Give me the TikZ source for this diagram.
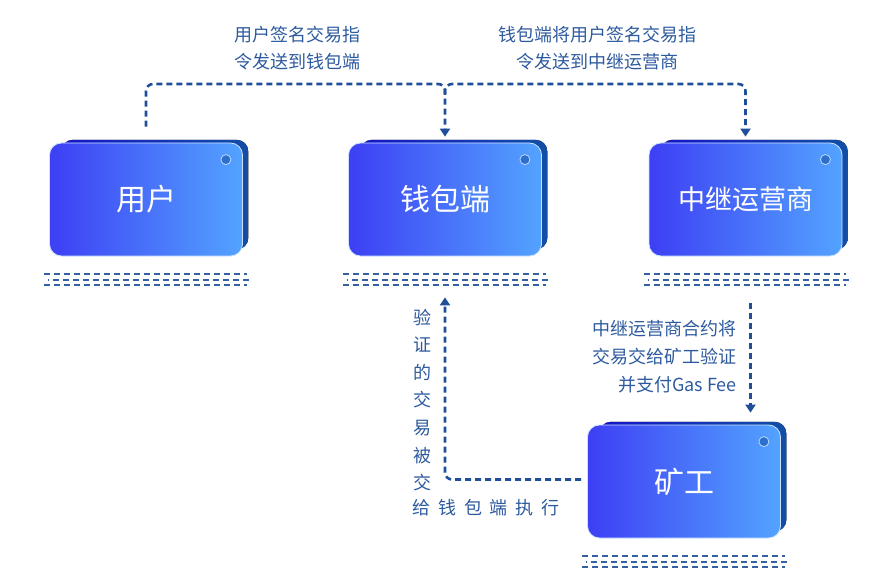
\documentclass[tikz,border=0pt]{standalone}
\usepackage{fontspec}
\setmainfont{Noto Sans CJK SC}
\usetikzlibrary{arrows.meta}
\usetikzlibrary{shadows}
\definecolor{cardL}{HTML}{3D3FF4}
\definecolor{cardR}{HTML}{53A3FF}
\definecolor{backL}{HTML}{1414C8}
\definecolor{backR}{HTML}{124FA6}
\definecolor{flowblue}{HTML}{1F4F98}
\definecolor{noteblue}{HTML}{2D5A9E}
\definecolor{dotblue}{HTML}{2F6FCC}
\tikzset{
  card/.style={rectangle, rounded corners=12pt, minimum width=193pt, minimum height=113pt,
    left color=cardL, right color=cardR, draw=white!70!cardR, line width=0.8pt,
    text=white, font=\fontsize{30}{34}\selectfont,
    copy shadow={shadow xshift=9pt, shadow yshift=5pt, shadow scale=0.97,
      left color=backL, right color=backR, draw=none}},
  flow/.style={draw=flowblue, line width=2.6pt, dash pattern=on 6pt off 4pt,
    rounded corners=7pt, -{Triangle[width=10pt,length=8pt]}},
  base/.style={draw=flowblue!90!white, line width=1.9pt, dash pattern=on 6pt off 4pt},
  note/.style={text=noteblue, font=\fontsize{18}{27}\selectfont, inner sep=0pt},
}

\begin{document}
\begin{tikzpicture}[x=1pt,y=-1pt]
      \useasboundingbox (0,0) rectangle (886,572);
      % the four parties
      \node[card] (user) at (146,199.5) {用户};
      \node[card] (wallet) at (445,199.5) {钱包端};
      \node[card, font=\fontsize{27}{30}\selectfont] (relay) at (745.5,199.5) {中继运营商};
      \node[card] (miner) at (684,481.5) {矿工};
      \foreach \n in {user,wallet,relay,miner} {
        \draw[fill=dotblue, draw=white!60!cardR, line width=0.8pt] ([xshift=-17pt,yshift=-17pt]\n.north east) circle (5pt);
        \draw[base] ([xshift=-5pt,yshift=-18pt]\n.south west) -- ([xshift=4pt,yshift=-18pt]\n.south east);
        \draw[base, dash phase=5pt] ([xshift=-1pt,yshift=-23.5pt]\n.south west) -- ([xshift=10pt,yshift=-23.5pt]\n.south east);
        \draw[base] ([xshift=-5pt,yshift=-29pt]\n.south west) -- ([xshift=4pt,yshift=-29pt]\n.south east);
      }
      % connectors
      \coordinate (top) at (0,84);
      \coordinate (r3) at ([xshift=5pt,yshift=-47pt]relay.south);
      \coordinate (m3) at ([yshift=12pt]miner.north);
      \draw[flow] ([yshift=16pt]user.north) -- (user.north |- top) -| ([yshift=6pt]wallet.north);
      \draw[flow] ([yshift=48pt]wallet.north) -- (wallet.north |- top) -| ([yshift=6pt]relay.north);
      \draw[flow] (r3) -- (r3 |- m3);
      \draw[flow] ([xshift=-6pt,yshift=2pt]miner.west) -| ([yshift=-41pt]wallet.south);
      % labels
      \node[note, align=center] (sendwallet) at (297,48) {用户签名交易指\\令发送到钱包端};
      \node[note, align=center] (sendrelay) at (597,48) {钱包端将用户签名交易指\\令发送到中继运营商};
      \node[note, align=right, anchor=east, font=\fontsize{18}{28}\selectfont] (submit) at (737,357) {中继运营商合约将\\交易交给矿工验证\\并支付Gas Fee};
      \node[note, align=center, font=\fontsize{18}{27.6}\selectfont] (verify) at (422,400) {验\\证\\的\\交\\易\\被\\交};
      \node[note] (execute) at (486,508) {给\hspace{7.8pt}钱\hspace{7.8pt}包\hspace{7.8pt}端\hspace{7.8pt}执\hspace{7.8pt}行};
    \end{tikzpicture}
\end{document}
